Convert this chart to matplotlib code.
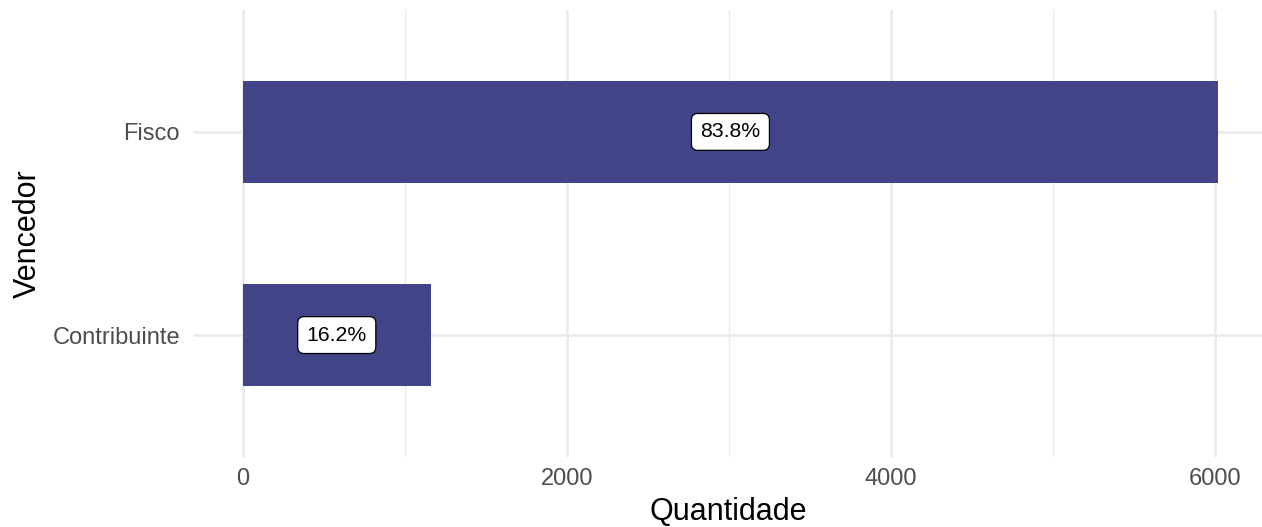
import matplotlib
matplotlib.use("Agg")
import matplotlib.pyplot as plt
from matplotlib.ticker import MultipleLocator

categorias = ["Contribuinte", "Fisco"]
quantidade = [1160, 6019]
rotulos = ["16.2%", "83.8%"]

plt.rcParams["font.family"] = ["Liberation Sans", "DejaVu Sans"]

fig = plt.figure(figsize=(12.62, 5.27), dpi=100)
W, H = 1262, 527
ax = fig.add_axes([194 / W, 1 - 457 / H, (1262 - 194) / W, (457 - 10) / H])

ypos = list(range(len(categorias)))
ax.barh(ypos, quantidade, height=0.5, color="#414487", zorder=3)
for y, q, r in zip(ypos, quantidade, rotulos):
    ax.text(q / 2, y, r, ha="center", va="center", fontsize=15.3, zorder=4,
            bbox=dict(boxstyle="round,pad=0.42,rounding_size=0.3", fc="white", ec="black", lw=0.9))

ax.set_xlim(-301, 6290)
ax.set_ylim(-0.6, 1.6)
ax.set_yticks(ypos)
ax.set_yticklabels(categorias)
ax.xaxis.set_major_locator(MultipleLocator(2000))
ax.xaxis.set_minor_locator(MultipleLocator(1000))
ax.grid(which="major", color="#EBEBEB", lw=2.0, zorder=0)
ax.grid(which="minor", axis="x", color="#EBEBEB", lw=1.0, zorder=0)
for s in ax.spines.values():
    s.set_visible(False)
ax.tick_params(which="both", length=0, labelsize=17, labelcolor="#4D4D4D")
ax.tick_params(axis="x", pad=8)
ax.tick_params(axis="y", pad=10)
ax.set_xlabel("Quantidade", fontsize=22, labelpad=5)
ax.set_ylabel("Vencedor", fontsize=22, labelpad=7)

fig.savefig("out.png", dpi=100)
